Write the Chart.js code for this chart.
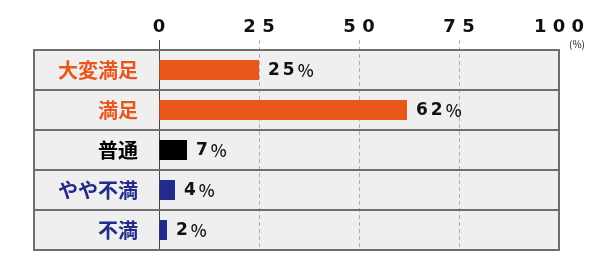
<!DOCTYPE html>
<html lang="ja">
<head>
<meta charset="UTF-8">
<title>満足度</title>
<script src="https://cdn.jsdelivr.net/npm/chart.js"></script>
<style>
  html, body { margin: 0; padding: 0; background: #fff; overflow: hidden; }
  #wrap { position: relative; width: 592px; height: 260px; }
</style>
</head>
<body>
<div id="wrap"><canvas id="chart"></canvas></div>
<script>
// データ
const categories = ['大変満足', '満足', '普通', 'やや不満', '不満'];
const values = [25, 62, 7, 4, 2];
const barColors = ['#e8561a', '#e8561a', '#000000', '#222a8a', '#222a8a'];
const labelColors = ['#e8561a', '#e8561a', '#000000', '#222a8a', '#222a8a'];
const xTicks = [0, 25, 50, 75, 100];
const unitLabel = '(%)';

const BOX_LEFT = 34;
const JP = '"Noto Sans CJK JP", "Noto Sans", sans-serif';

// 背景・枠・値ラベル
const boxPlugin = {
  id: 'box',
  beforeDraw(chart) {
    const { ctx, chartArea: a } = chart;
    ctx.save();
    ctx.fillStyle = '#efefef';
    ctx.fillRect(BOX_LEFT, a.top, a.right - BOX_LEFT, a.bottom - a.top);
    ctx.restore();
  },
  beforeDatasetsDraw(chart) {
    // 25/50/75 の破線
    const { ctx, chartArea: a, scales: { x } } = chart;
    ctx.save();
    ctx.strokeStyle = '#b0b0b0';
    ctx.lineWidth = 1;
    ctx.setLineDash([4, 3]);
    xTicks.slice(1, -1).forEach(v => {
      const px = Math.round(x.getPixelForValue(v)) + 0.5;
      ctx.beginPath();
      ctx.moveTo(px, a.top - 10);
      ctx.lineTo(px, a.bottom);
      ctx.stroke();
    });
    ctx.restore();
  },
  afterDatasetsDraw(chart) {
    const { ctx, chartArea: a, scales: { x, y } } = chart;
    ctx.save();
    ctx.strokeStyle = '#6e6e6e';
    ctx.lineWidth = 2;
    const step = y.getPixelForValue(1) - y.getPixelForValue(0);
    for (let i = 0; i <= categories.length; i++) {
      const yy = Math.round(y.getPixelForValue(i) - step / 2);
      ctx.beginPath();
      ctx.moveTo(BOX_LEFT, yy);
      ctx.lineTo(a.right, yy);
      ctx.stroke();
    }
    ctx.beginPath();
    ctx.moveTo(BOX_LEFT, a.top - 1);
    ctx.lineTo(BOX_LEFT, a.bottom + 1);
    ctx.moveTo(a.right, a.top - 1);
    ctx.lineTo(a.right, a.bottom + 1);
    ctx.stroke();

    // 値ラベル
    ctx.fillStyle = '#111';
    ctx.textBaseline = 'middle';
    ctx.textAlign = 'left';
    ctx.letterSpacing = '3px';
    const meta = chart.getDatasetMeta(0);
    meta.data.forEach((bar, i) => {
      const t = String(values[i]);
      ctx.font = 'bold 17px "DejaVu Sans", sans-serif';
      ctx.fillText(t, bar.x + 9, bar.y + 1);
      const w = ctx.measureText(t).width;
      ctx.font = '500 17px ' + JP;
      ctx.fillText('%', bar.x + 9 + w, bar.y + 1);
    });

    // 単位
    ctx.letterSpacing = '0px';
    ctx.font = '10px ' + JP;
    ctx.fillStyle = '#222';
    ctx.textAlign = 'center';
    ctx.fillText(unitLabel, x.getPixelForValue(100) + 18, a.top - 6);
    ctx.restore();
  }
};

new Chart(document.getElementById('chart'), {
  type: 'bar',
  data: {
    labels: categories,
    datasets: [{
      data: values,
      backgroundColor: barColors,
      borderWidth: 0,
      barPercentage: 0.5,
      categoryPercentage: 1
    }]
  },
  options: {
    indexAxis: 'y',
    responsive: true,
    maintainAspectRatio: false,
    animation: false,
    layout: { padding: { left: 0, right: 33, top: 0, bottom: 10 } },
    plugins: { legend: { display: false }, tooltip: { enabled: false } },
    scales: {
      x: {
        position: 'top',
        min: 0,
        max: 100,
        afterFit: s => { s.height = 50; s.paddingLeft = 0; s.paddingRight = 0; },
        afterBuildTicks: s => { s.ticks = xTicks.map(v => ({ value: v })); },
        border: { display: false },
        grid: {
          drawTicks: true,
          tickLength: 10,
          lineWidth: 1,
          color: ctx => ctx.tick && ctx.tick.value === 0 ? '#444' : 'rgba(0,0,0,0)'
        },
        ticks: {
          padding: 2,
          color: '#111',
          font: { family: '"DejaVu Sans", sans-serif', size: 18, weight: 'bold' },
          callback: v => String(v).split('').join(' ')
        }
      },
      y: {
        afterFit: s => { s.width = 159; s.paddingTop = 0; s.paddingBottom = 0; },
        border: { display: false },
        grid: { display: false, drawTicks: false },
        ticks: {
          padding: 21,
          color: ctx => labelColors[ctx.index],
          font: { family: JP, size: 20, weight: 'bold' }
        }
      }
    }
  },
  plugins: [boxPlugin]
});
</script>
</body>
</html>
